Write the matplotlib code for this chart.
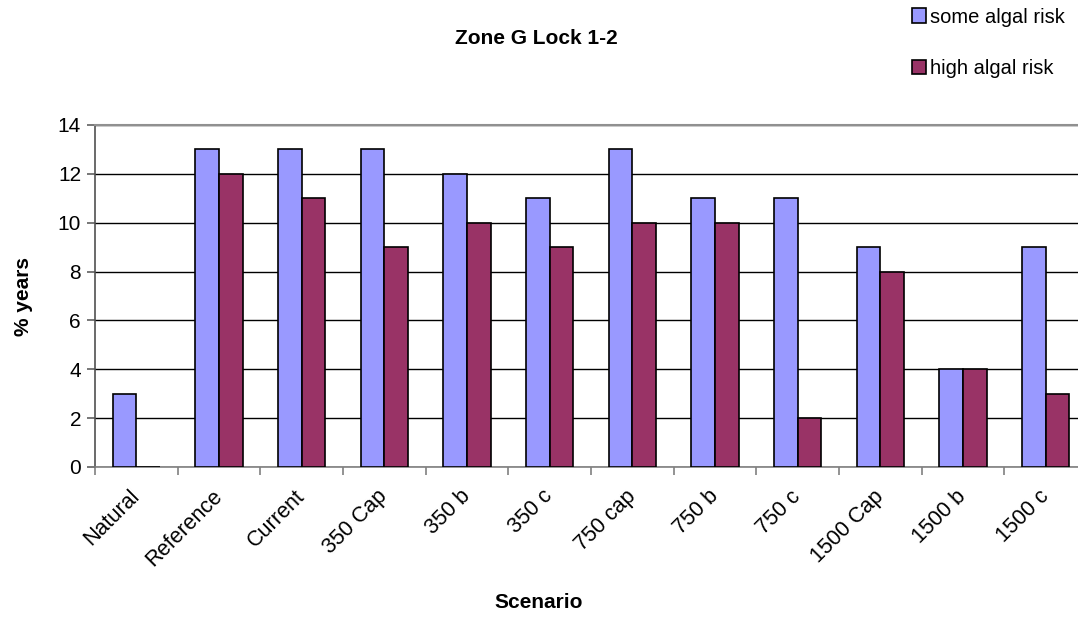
import matplotlib.pyplot as plt
import matplotlib.transforms as mtransforms
import numpy as np

plt.rcParams['font.family'] = ['Liberation Sans', 'DejaVu Sans']

scenarios = ["Natural", "Reference", "Current", "350 Cap", "350 b", "350 c",
             "750 cap", "750 b", "750 c", "1500 Cap", "1500 b", "1500 c"]
some_risk = [3, 13, 13, 13, 12, 11, 13, 11, 11, 9, 4, 9]
high_risk = [0, 12, 11, 9, 10, 9, 10, 10, 2, 8, 4, 3]

x = np.arange(len(scenarios))
w = 1 / 3.5

fig = plt.figure(figsize=(10.78, 6.37), dpi=100)
ax = fig.add_axes([95 / 1078, 1 - 467 / 637, 992 / 1078, 342 / 637])

ax.bar(x - w / 2, some_risk, w, color="#9999FF", edgecolor="black", linewidth=1.2,
       label="some algal risk", zorder=3)
ax.bar(x + w / 2, high_risk, w, color="#993366", edgecolor="black", linewidth=1.2,
       label="high algal risk", zorder=3)

ax.set_xlim(-0.5, len(scenarios) - 0.5)
ax.set_ylim(0, 14)
ax.set_yticks(range(0, 15, 2))
ax.yaxis.grid(True, color="black", linewidth=1)
ax.set_axisbelow(True)

ax.set_xticks(x)
ax.set_xticklabels(scenarios, rotation=45, ha="right", va="center",
                   rotation_mode="anchor", fontsize=15.5)
# nudge the rotated labels a little left, like the original
shift = mtransforms.ScaledTranslation(-5 / 100, 0, fig.dpi_scale_trans)
for lab in ax.get_xticklabels():
    lab.set_transform(lab.get_transform() + shift)
ax.set_xticks(np.arange(-0.5, len(scenarios), 1), minor=True)
ax.tick_params(axis="x", which="major", length=0, pad=19)
ax.tick_params(axis="x", which="minor", length=6, color="#808080", width=1.2)
ax.tick_params(axis="y", length=6, color="#606060", width=1.2, labelsize=15, pad=4)

ax.spines["right"].set_visible(False)
ax.spines["top"].set_color("#909090")
ax.spines["top"].set_linewidth(1.5)
ax.spines["bottom"].set_color("#808080")
ax.spines["bottom"].set_linewidth(1.2)
ax.spines["left"].set_color("#505050")
ax.spines["left"].set_linewidth(1.2)

ax.set_ylabel("% years", fontsize=15, fontweight="bold", labelpad=18)
fig.text(0.5, 1 - 602 / 637, "Scenario", ha="center", va="center",
         fontsize=15, fontweight="bold")
fig.text(0.498, 1 - 38 / 637, "Zone G Lock 1-2", ha="center", va="center",
         fontsize=15, fontweight="bold")

fig.legend(loc="upper left", bbox_to_anchor=(902 / 1078, 1.004), frameon=False,
           fontsize=14.5, handlelength=0.7, handleheight=0.7, handletextpad=0.2,
           labelspacing=1.6, borderaxespad=0.1)

fig.savefig("out.png", dpi=100)
